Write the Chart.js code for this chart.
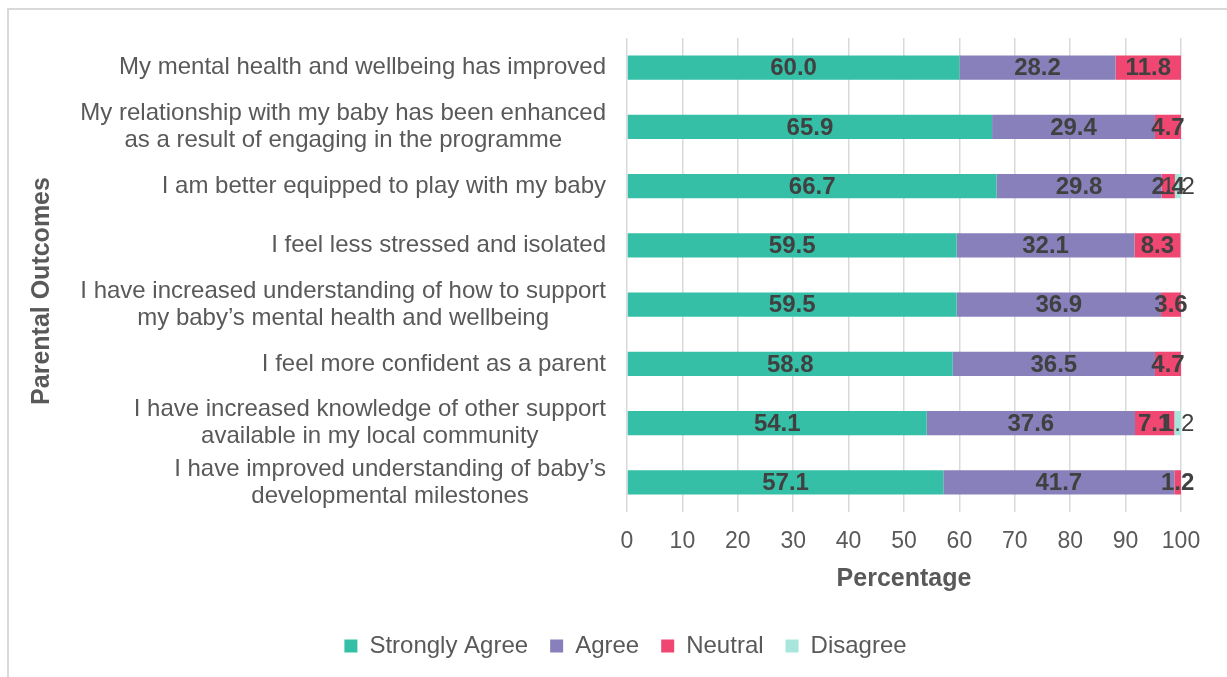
<!DOCTYPE html>
<html>
<head>
<meta charset="utf-8">
<script src="https://cdn.jsdelivr.net/npm/chart.js@4"></script>
<style>
  html, body { margin: 0; padding: 0; background: #fff; }
  #frame { position: absolute; left: 7px; top: 8px; width: 1300px; height: 700px;
           border-left: 2px solid #d9d9d9; border-top: 2px solid #d9d9d9; }
  #wrap { position: absolute; left: 0; top: 0; width: 1227px; height: 677px; }
</style>
</head>
<body>
<div id="frame"></div>
<div id="wrap"><canvas id="myChart" width="1227" height="677"></canvas></div>
<script>
var categories = [
    ["My mental health and wellbeing has improved"],
    ["My relationship with my baby has been enhanced", "as a result of engaging in the programme"],
    ["I am better equipped to play with my baby"],
    ["I feel less stressed and isolated"],
    ["I have increased understanding of how to support", "my baby\u2019s mental health and wellbeing"],
    ["I feel more confident as a parent"],
    ["I have increased knowledge of other support", "available in my local community"],
    ["I have improved understanding of baby\u2019s", "developmental milestones"]
];
var stronglyAgree = [60.0, 65.9, 66.7, 59.5, 59.5, 58.8, 54.1, 57.1];
var agree = [28.2, 29.4, 29.8, 32.1, 36.9, 36.5, 37.6, 41.7];
var neutral = [11.8, 4.7, 2.4, 8.3, 3.6, 4.7, 7.1, 1.2];
var disagree = [0, 0, 1.2, 0, 0, 0, 1.2, 0];
var xTicks = [0, 10, 20, 30, 40, 50, 60, 70, 80, 90, 100];

var fontFam = "'Liberation Sans', Arial, sans-serif";
var grey = '#595959';

// value labels on each bar segment
const valueLabels = {
    id: 'valueLabels',
    afterDatasetsDraw(chart) {
        const ctx = chart.ctx;
        ctx.save();
        ctx.textAlign = 'center';
        ctx.textBaseline = 'middle';
        chart.data.datasets.forEach((ds, di) => {
            const meta = chart.getDatasetMeta(di);
            ctx.font = (di < 3 ? 'bold ' : '') + '24px ' + fontFam;
            ctx.fillStyle = '#404040';
            meta.data.forEach((bar, i) => {
                const v = ds.data[i];
                if (!v) return;
                ctx.fillText(v.toFixed(1), (bar.x + bar.base) / 2, bar.y + 1);
            });
        });
        ctx.restore();
    }
};

// category labels (right aligned block, lines centred) and y title
const yLabels = {
    id: 'yLabels',
    afterDraw(chart) {
        const ctx = chart.ctx;
        const y = chart.scales.y;
        ctx.save();
        ctx.font = '24px ' + fontFam;
        ctx.fillStyle = grey;
        ctx.textAlign = 'center';
        ctx.textBaseline = 'middle';
        const right = chart.chartArea.left - 21;
        const lh = 27;
        categories.forEach((lines, i) => {
            const w = Math.max(...lines.map(l => ctx.measureText(l).width));
            const cx = right - w / 2;
            const cy = y.getPixelForValue(i);
            lines.forEach((l, k) => {
                ctx.fillText(l, cx, cy + (k - (lines.length - 1) / 2) * lh);
            });
        });
        ctx.font = 'bold 25px ' + fontFam;
        ctx.translate(42, 291);
        ctx.rotate(-Math.PI / 2);
        ctx.fillText('Parental Outcomes', 0, 0);
        ctx.restore();
    }
};

const ctx = document.getElementById('myChart');

new Chart(ctx, {
    type: 'bar',
    data: {
        labels: categories,
        datasets: [
            { label: 'Strongly Agree', data: stronglyAgree, backgroundColor: '#35bfa7' },
            { label: 'Agree', data: agree, backgroundColor: '#8780ba' },
            { label: 'Neutral', data: neutral, backgroundColor: '#ef4771' },
            { label: 'Disagree', data: disagree, backgroundColor: '#a8e6db' }
        ]
    },
    options: {
        indexAxis: 'y',
        responsive: false,
        animation: false,
        devicePixelRatio: 1,
        layout: { padding: { top: 38, right: 46, bottom: 9, left: 70 } },
        datasets: { bar: { categoryPercentage: 1, barPercentage: 0.41, borderWidth: 0 } },
        scales: {
            x: {
                stacked: true,
                min: 0,
                max: 100,
                afterBuildTicks: s => { s.ticks = xTicks.map(v => ({ value: v })); },
                afterFit: s => { s.height = 100; },
                grid: { color: '#d9d9d9', lineWidth: 1.5, drawTicks: false },
                border: { display: false },
                ticks: { color: grey, font: { family: fontFam, size: 23 }, padding: 16 },
                title: {
                    display: true, text: 'Percentage', color: grey,
                    font: { family: fontFam, size: 25, weight: 'bold' },
                    padding: { top: 0, bottom: 18 }
                }
            },
            y: {
                stacked: true,
                afterFit: s => { s.width = 557; },
                grid: { display: false },
                border: { display: false },
                ticks: { display: false }
            }
        },
        plugins: {
            legend: {
                position: 'bottom',
                labels: {
                    color: grey,
                    font: { family: fontFam, size: 24 },
                    boxWidth: 13,
                    boxHeight: 13,
                    padding: 22
                }
            },
            tooltip: { enabled: false }
        }
    },
    plugins: [valueLabels, yLabels]
});
</script>
</body>
</html>
